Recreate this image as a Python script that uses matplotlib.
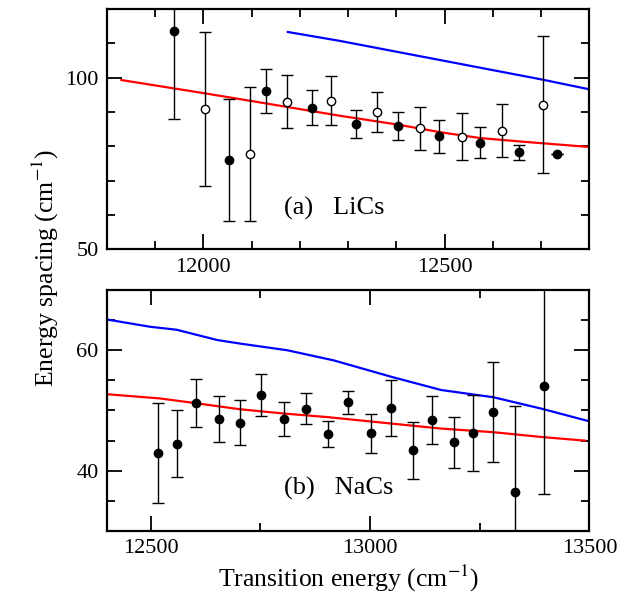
import numpy as np
import matplotlib
matplotlib.use('Agg')
import matplotlib.pyplot as plt
from matplotlib.ticker import MultipleLocator

plt.rcParams['font.family'] = ['Liberation Serif', 'DejaVu Serif']
plt.rcParams['mathtext.fontset'] = 'stix'

# (a) LiCs, filled and open circles
lics_filled_x = [11940, 12054, 12130, 12225, 12317, 12404, 12489, 12574, 12655, 12733]
lics_filled_y = [113.5, 75.9, 96.1, 91.3, 86.5, 85.9, 82.9, 81.1, 78.2, 77.7]
lics_filled_err = [25.4, 17.8, 6.4, 5.0, 4.2, 4.0, 4.9, 4.6, 2.3, 0.0]

lics_open_x = [12003, 12096, 12174, 12265, 12359, 12449, 12535, 12618, 12703]
lics_open_y = [90.9, 77.8, 93.0, 93.3, 90.0, 85.2, 82.8, 84.5, 92.1]
lics_open_err = [22.4, 19.6, 7.7, 7.2, 5.7, 6.3, 6.8, 7.7, 20.0]

lics_red_x = [11830, 12000, 12095, 12283, 12404, 12491, 12574, 12657, 12782, 12800]
lics_red_y = [99.3, 95.5, 93.3, 88.9, 86.3, 84.1, 82.4, 81.4, 80.0, 79.8]
lics_blue_x = [12175, 12283, 12700, 12800]
lics_blue_y = [113.3, 110.7, 99.5, 96.6]

# (b) NaCs
nacs_x = [12516, 12559, 12604, 12655, 12704, 12752, 12803, 12854, 12903, 12949,
          13002, 13048, 13098, 13141, 13191, 13235, 13281, 13331, 13397]
nacs_y = [43.0, 44.5, 51.3, 48.6, 48.0, 52.6, 48.6, 50.3, 46.1, 51.4,
          46.2, 50.4, 43.4, 48.4, 44.7, 46.2, 49.8, 36.4, 54.0]
nacs_err = [8.3, 5.6, 4.0, 3.8, 3.75, 3.5, 2.8, 2.6, 2.1, 1.9,
            3.3, 4.7, 4.75, 4.0, 4.3, 6.3, 8.3, 14.4, 17.9]

nacs_red_x = [12400, 12521, 12604, 12704, 12803, 12903, 13162, 13281, 13391, 13490]
nacs_red_y = [52.7, 52.0, 51.2, 50.2, 49.5, 48.9, 47.0, 46.4, 45.6, 45.0]
nacs_blue_x = [12400, 12498, 12559, 12651, 12704, 12811, 12918, 13048, 13162, 13281, 13391, 13500]
nacs_blue_y = [65.1, 63.9, 63.4, 61.7, 61.1, 60.0, 58.3, 55.6, 53.4, 52.2, 50.3, 48.2]

fig = plt.figure(figsize=(6.29, 5.99), dpi=100)
ax1 = fig.add_axes([0.170, 0.5838, 0.767, 0.4012])
ax2 = fig.add_axes([0.170, 0.1135, 0.767, 0.4024])

eb = dict(fmt='none', ecolor='black', elinewidth=1.0, capsize=4, capthick=1.0)

ax1.plot(lics_red_x, lics_red_y, color='red', lw=1.6)
ax1.plot(lics_blue_x, lics_blue_y, color='blue', lw=1.6)
ax1.errorbar(lics_filled_x, lics_filled_y, yerr=lics_filled_err, **eb)
ax1.errorbar(lics_open_x, lics_open_y, yerr=lics_open_err, **eb)
ax1.plot(lics_filled_x, lics_filled_y, 'o', color='black', ms=6, zorder=5)
ax1.plot(lics_open_x, lics_open_y, 'o', mfc='white', mec='black', mew=1.0, ms=6, zorder=5)
ax1.set_xlim(11800, 12800)
ax1.set_ylim(50, 120)
ax1.xaxis.set_major_locator(MultipleLocator(500))
ax1.xaxis.set_minor_locator(MultipleLocator(100))
ax1.yaxis.set_major_locator(MultipleLocator(50))
ax1.yaxis.set_minor_locator(MultipleLocator(10))
ax1.text(0.368, 0.172, '(a)   LiCs', transform=ax1.transAxes, fontsize=19, va='center')

ax2.plot(nacs_red_x, nacs_red_y, color='red', lw=1.6)
ax2.plot(nacs_blue_x, nacs_blue_y, color='blue', lw=1.6)
ax2.errorbar(nacs_x, nacs_y, yerr=nacs_err, **eb)
ax2.plot(nacs_x, nacs_y, 'o', color='black', ms=6, zorder=5)
ax2.set_xlim(12400, 13500)
ax2.set_ylim(30, 70)
ax2.xaxis.set_major_locator(MultipleLocator(500))
ax2.xaxis.set_minor_locator(MultipleLocator(250))
ax2.yaxis.set_major_locator(MultipleLocator(20))
ax2.yaxis.set_minor_locator(MultipleLocator(5))
ax2.text(0.368, 0.178, '(b)   NaCs', transform=ax2.transAxes, fontsize=19, va='center')

for ax in [ax1, ax2]:
    for sp in ax.spines.values():
        sp.set_linewidth(1.6)
    ax.tick_params(which='both', direction='in', top=True, right=True, labelsize=16, width=1.3)
    ax.tick_params(which='major', length=11, pad=6)
    ax.tick_params(which='minor', length=5.5)

ax2.set_xlabel('Transition energy (cm$^{-1}$)', fontsize=18.5, labelpad=3)
fig.text(0.072, 0.553, 'Energy spacing (cm$^{-1}$)', rotation=90, fontsize=18.5,
         ha='center', va='center')

fig.savefig('out.png', dpi=100)
